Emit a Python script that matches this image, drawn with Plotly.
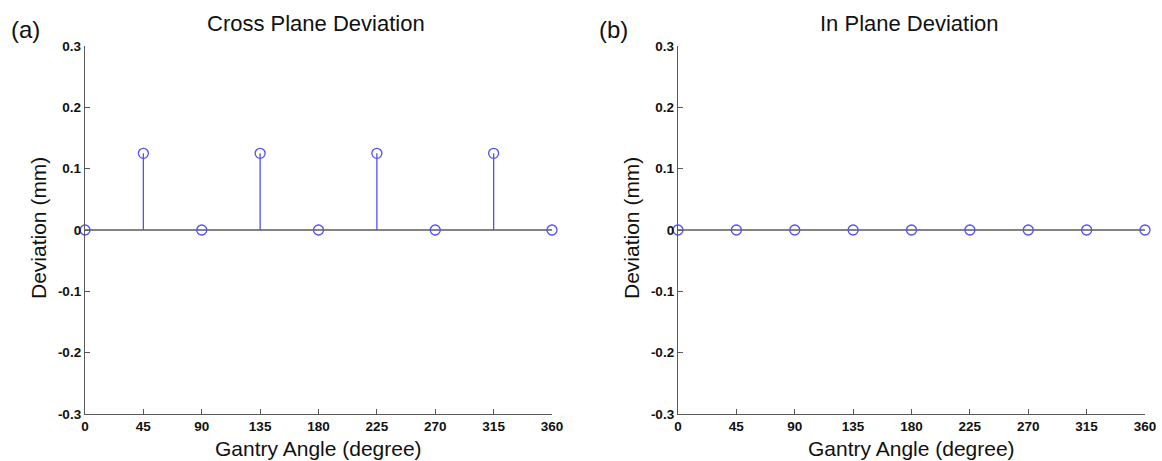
import plotly.graph_objects as go

angles = [0, 45, 90, 135, 180, 225, 270, 315, 360]
cross_plane = [0, 0.125, 0, 0.125, 0, 0.125, 0, 0.125, 0]
in_plane = [0, 0, 0, 0, 0, 0, 0, 0, 0]
x_ticks = [0, 45, 90, 135, 180, 225, 270, 315, 360]
y_ticks = [-0.3, -0.2, -0.1, 0, 0.1, 0.2, 0.3]
y_tick_labels = ["-0.3", "-0.2", "-0.1", "0", "0.1", "0.2", "0.3"]
titles = ["Cross Plane Deviation", "In Plane Deviation"]
panel_labels = ["(a)", "(b)"]
x_title = "Gantry Angle (degree)"
y_title = "Deviation (mm)"

BLUE = "#4f4fff"
AXIS = "#5a5a5a"
FAM = "Liberation Sans, Arial"
TICKFONT = dict(family=FAM, size=13.5, color="#111", weight="bold")

fig = go.Figure()

W, H = 1162, 461
xdomains = [[85 / W, 552 / W], [678 / W, 1145 / W]]
ydomain = [1 - 414 / H, 1 - 46 / H]

for i, vals in enumerate([cross_plane, in_plane]):
    xa = "x" if i == 0 else "x2"
    ya = "y" if i == 0 else "y2"
    sx, sy = [], []
    for a, v in zip(angles, vals):
        sx += [a, a, None]
        sy += [0, v, None]
    fig.add_trace(go.Scatter(x=[angles[0], angles[-1]], y=[0, 0], mode="lines",
                             line=dict(color=AXIS, width=1.3), xaxis=xa, yaxis=ya,
                             showlegend=False, hoverinfo="skip"))
    fig.add_trace(go.Scatter(x=sx, y=sy, mode="lines", line=dict(color=BLUE, width=1.3),
                             xaxis=xa, yaxis=ya, showlegend=False, hoverinfo="skip"))
    fig.add_trace(go.Scatter(x=angles, y=vals, mode="markers",
                             marker=dict(symbol="circle-open", size=10, color=BLUE,
                                         line=dict(width=1.3, color=BLUE)),
                             xaxis=xa, yaxis=ya, showlegend=False, cliponaxis=False))

common_x = dict(range=[0, 360], tickvals=x_ticks, ticktext=[str(t) for t in x_ticks],
                showline=True, linecolor=AXIS, linewidth=1.3, ticks="inside", ticklen=5,
                tickcolor=AXIS, tickwidth=1, showgrid=False, zeroline=False,
                tickfont=TICKFONT, ticklabelstandoff=0, automargin=False)
common_y = dict(range=[-0.3, 0.3], tickvals=y_ticks, ticktext=y_tick_labels,
                showline=True, linecolor=AXIS, linewidth=1.3, ticks="inside", ticklen=5,
                tickcolor=AXIS, tickwidth=1, showgrid=False, zeroline=False,
                tickfont=TICKFONT, domain=ydomain, ticklabelstandoff=0, automargin=False)

fig.update_layout(
    width=W, height=H, margin=dict(l=0, r=0, t=0, b=0, pad=0, autoexpand=False),
    paper_bgcolor="white", plot_bgcolor="white",
    xaxis=dict(domain=xdomains[0], anchor="y", **common_x),
    yaxis=dict(anchor="x", **common_y),
    xaxis2=dict(domain=xdomains[1], anchor="y2", **common_x),
    yaxis2=dict(anchor="x2", **common_y),
)

def ann(text, x, y, size, angle=0):
    fig.add_annotation(text=text, x=x / W, y=1 - y / H, xref="paper", yref="paper",
                       showarrow=False, font=dict(family=FAM, size=size, color="#111"),
                       xanchor="center", yanchor="middle", textangle=angle)

title_centers = [316, 909]
xtitle_centers = [318, 911]
ytitle_x = [38, 631]
label_x = [25, 613]
for i in range(2):
    ann(titles[i], title_centers[i], 23, 22)
    ann(x_title, xtitle_centers[i], 448, 21)
    ann(y_title, ytitle_x[i], 228, 21, angle=-90)
    ann(panel_labels[i], label_x[i], 30, 24)

fig.write_html("out.html")
